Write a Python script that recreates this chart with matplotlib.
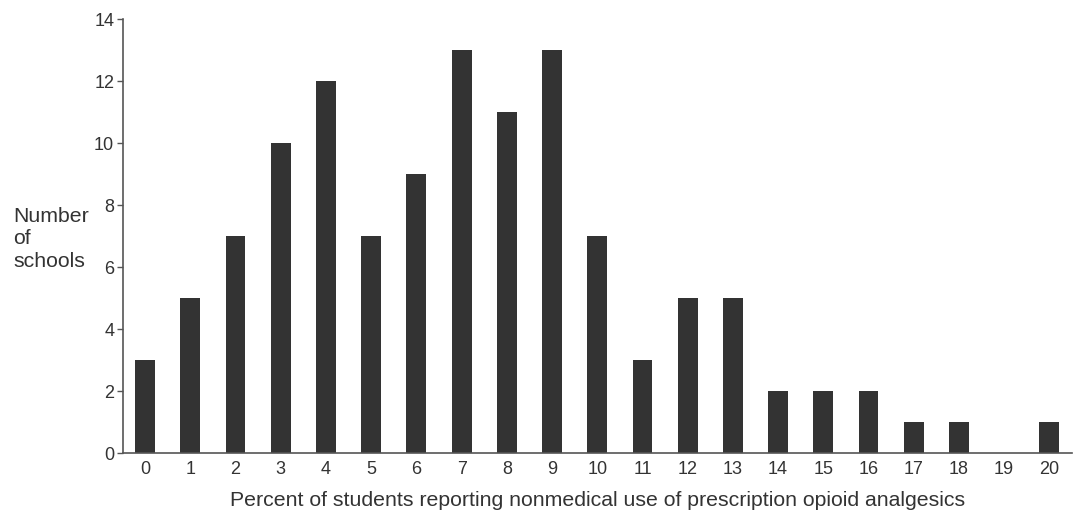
import matplotlib
matplotlib.use("Agg")
import matplotlib.pyplot as plt

percent = list(range(21))
schools = [3, 5, 7, 10, 12, 7, 9, 13, 11, 13, 7, 3, 5, 5, 2, 2, 2, 1, 1, 0, 1]
yticks = [0, 2, 4, 6, 8, 10, 12, 14]

plt.rcParams['font.family'] = ['Liberation Sans', 'DejaVu Sans']
fig = plt.figure(figsize=(10.74, 5.19), dpi=100)
ax = fig.add_axes([122.5/1074, 66/519, (1072-122.5)/1074, (453-19)/519])
ax.bar(percent, schools, width=0.44, color='#333333')
ax.set_xlim(-0.5, 20.5)
ax.set_ylim(0, 14)
ax.set_yticks(yticks)
ax.set_xticks(percent)
for s in ['top', 'right']:
    ax.spines[s].set_visible(False)
for s in ['left', 'bottom']:
    ax.spines[s].set_color('#555555')
    ax.spines[s].set_linewidth(1.2)
ax.tick_params(axis='x', length=0, pad=6, labelsize=13, labelcolor='#333333')
ax.tick_params(axis='y', length=4, width=1, color='#555555', pad=2, labelsize=13, labelcolor='#333333')
ax.set_xlabel('Percent of students reporting nonmedical use of prescription opioid analgesics',
              fontsize=15.3, color='#333333', labelpad=9)
fig.text(13/1074, 1 - 239/519, 'Number\nof\nschools', ha='left', va='center',
         fontsize=15.3, color='#333333', linespacing=1.23)
fig.savefig('out.png', dpi=100)
